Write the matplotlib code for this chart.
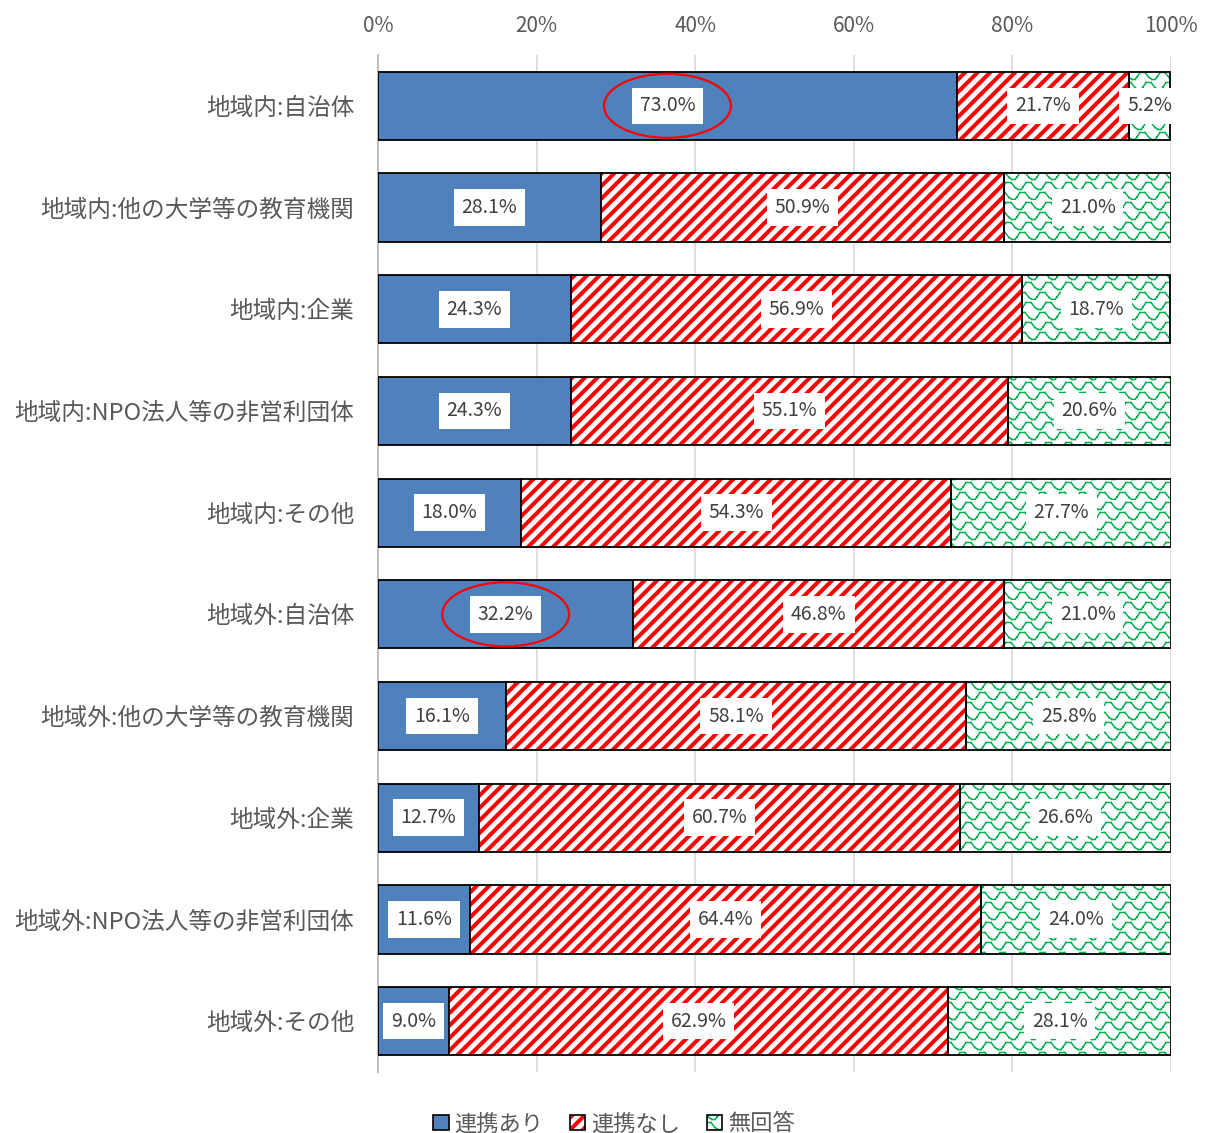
import warnings
import matplotlib
matplotlib.use("Agg")
import matplotlib.pyplot as plt
import numpy as np
from matplotlib import hatch as mhatch
from matplotlib.path import Path
from matplotlib.patches import Ellipse, Patch
from matplotlib.legend_handler import HandlerTuple

warnings.filterwarnings("ignore", category=matplotlib.MatplotlibDeprecationWarning)

categories = [
  "地域内:自治体",
  "地域内:他の大学等の教育機関",
  "地域内:企業",
  "地域内:NPO法人等の非営利団体",
  "地域内:その他",
  "地域外:自治体",
  "地域外:他の大学等の教育機関",
  "地域外:企業",
  "地域外:NPO法人等の非営利団体",
  "地域外:その他",
]
renkei_ari = [73.0, 28.1, 24.3, 24.3, 18.0, 32.2, 16.1, 12.7, 11.6, 9.0]
renkei_nashi = [21.7, 50.9, 56.9, 55.1, 54.3, 46.8, 58.1, 60.7, 64.4, 62.9]
mukaitou = [5.2, 21.0, 18.7, 20.6, 27.7, 21.0, 25.8, 26.6, 24.0, 28.1]
series_names = ["連携あり", "連携なし", "無回答"]
circled = [0, 5]


# wide diagonal stripes: each stripe is a bundle of parallel hatch lines,
# since the hatch linewidth is shared by every hatched artist.
# stripe count must stay even so the tile repeats cleanly
class StripeHatch(mhatch.HatchPatternBase):
  offsets = (-0.018, 0.0, 0.018)

  def __init__(self, hatch, density):
    self.num_lines = hatch.count("s") * 16
    self.num_vertices = (self.num_lines + 1) * len(self.offsets) * 2 if self.num_lines else 0

  def set_vertices_and_codes(self, vertices, codes):
    steps = np.linspace(-0.5, 0.5, self.num_lines + 1)
    k = 0
    for d in self.offsets:
      for s in steps + d / 2:
        vertices[k] = 0.0 + s, 0.0 - s
        vertices[k + 1] = 1.0 + s, 1.0 - s
        codes[k] = Path.MOVETO
        codes[k + 1] = Path.LINETO
        k += 2


# rows of flat-topped waves, drawn as separate segments
# so agg doesn't fill the area under each curve
class WaveHatch(mhatch.HatchPatternBase):
  motif = [(0.0, 0.75), (0.25, 0.75), (0.45, 0.25), (0.6, 0.05), (0.75, 0.05),
           (0.85, 0.3), (1.0, 0.75)]

  def __init__(self, hatch, density):
    n = hatch.count("w")
    self.rows = n * 10
    self.cols = n * 5
    nseg = len(self.motif) - 1
    self.num_vertices = self.rows * (self.cols + 2) * nseg * 2 if n else 0

  def set_vertices_and_codes(self, vertices, codes):
    m = np.array(self.motif)
    dy = 1.0 / self.rows
    k = 0
    for r in range(self.rows):
      shift = 0.3 * (r % 2)
      for c in range(-1, self.cols + 1):
        xs = (c + shift + m[:, 0]) / self.cols
        ys = r * dy + m[:, 1] * dy
        for j in range(len(m) - 1):
          vertices[k] = xs[j], ys[j]
          vertices[k + 1] = xs[j + 1], ys[j + 1]
          codes[k] = Path.MOVETO
          codes[k + 1] = Path.LINETO
          k += 2


mhatch._hatch_types.extend([StripeHatch, WaveHatch])

plt.rcParams["font.family"] = ["Noto Sans CJK JP", "DejaVu Sans"]
plt.rcParams["hatch.linewidth"] = 1.05

blue = "#4F81BD"
red = "#FF0000"
green = "#00B050"
text_gray = "#595959"

fig = plt.figure(figsize=(12.08, 11.33), dpi=100)
ax = fig.add_axes([0.3129, 0.0538, 0.6565, 0.8977])

y = np.arange(len(categories))
h = 0.67
a = np.array(renkei_ari)
b = np.array(renkei_nashi)
c = np.array(mukaitou)

ax.barh(y, a, height=h, color=blue, edgecolor="black", linewidth=1.3, zorder=3)
ax.barh(y, b, left=a, height=h, color="white", edgecolor=red,
        linewidth=0, hatch="s", zorder=3)
ax.barh(y, c, left=a + b, height=h, color="white", edgecolor=green,
        linewidth=0, hatch="w", zorder=3)
# black outlines on top of the hatched segments
ax.barh(y, b, left=a, height=h, color="none", edgecolor="black", linewidth=1.3, zorder=4)
ax.barh(y, c, left=a + b, height=h, color="none", edgecolor="black", linewidth=1.3, zorder=4)

box = dict(boxstyle="square,pad=0.4", facecolor="white", edgecolor="none")
for i in range(len(categories)):
  for left, val in [(0, a[i]), (a[i], b[i]), (a[i] + b[i], c[i])]:
    ax.text(left + val / 2, i, f"{val:.1f}%", ha="center", va="center",
            fontsize=14, color="#404040", bbox=box, zorder=5)

for i in circled:
  ax.add_patch(Ellipse((a[i] / 2, i), width=16.0, height=0.63, facecolor="none",
                       edgecolor=red, linewidth=1.6, zorder=6))

ax.set_xlim(0, 100)
ax.set_ylim(len(categories) - 0.5, -0.5)
ax.set_xticks(np.arange(0, 101, 20))
ax.set_xticklabels([f"{t}%" for t in range(0, 101, 20)])
ax.xaxis.tick_top()
ax.tick_params(axis="x", length=0, pad=13, labelsize=15, labelcolor=text_gray)
ax.set_yticks(y)
ax.set_yticklabels(categories)
ax.tick_params(axis="y", length=0, pad=17, labelsize=17, labelcolor=text_gray)
ax.grid(axis="x", color="#D9D9D9", linewidth=1.2, zorder=0)
ax.set_axisbelow(True)
for s in ["top", "right", "bottom"]:
  ax.spines[s].set_visible(False)
ax.spines["left"].set_color("#BFBFBF")
ax.spines["left"].set_linewidth(1.5)

handles = [
  Patch(facecolor=blue, edgecolor="black", linewidth=1.2),
  (Patch(facecolor="white", edgecolor=red, linewidth=0, hatch="s"),
   Patch(facecolor="none", edgecolor="black", linewidth=1.2)),
  (Patch(facecolor="white", edgecolor=green, linewidth=0, hatch="w"),
   Patch(facecolor="none", edgecolor="black", linewidth=1.2)),
]
fig.legend(handles, series_names, handler_map={tuple: HandlerTuple(ndivide=1, pad=0)},
           loc="center", bbox_to_anchor=(0.508, 0.008), ncol=3, frameon=False,
           fontsize=16, labelcolor=text_gray, handlelength=0.7, handleheight=0.7,
           handletextpad=0.25, columnspacing=1.2)

fig.savefig("out.png", dpi=100)
